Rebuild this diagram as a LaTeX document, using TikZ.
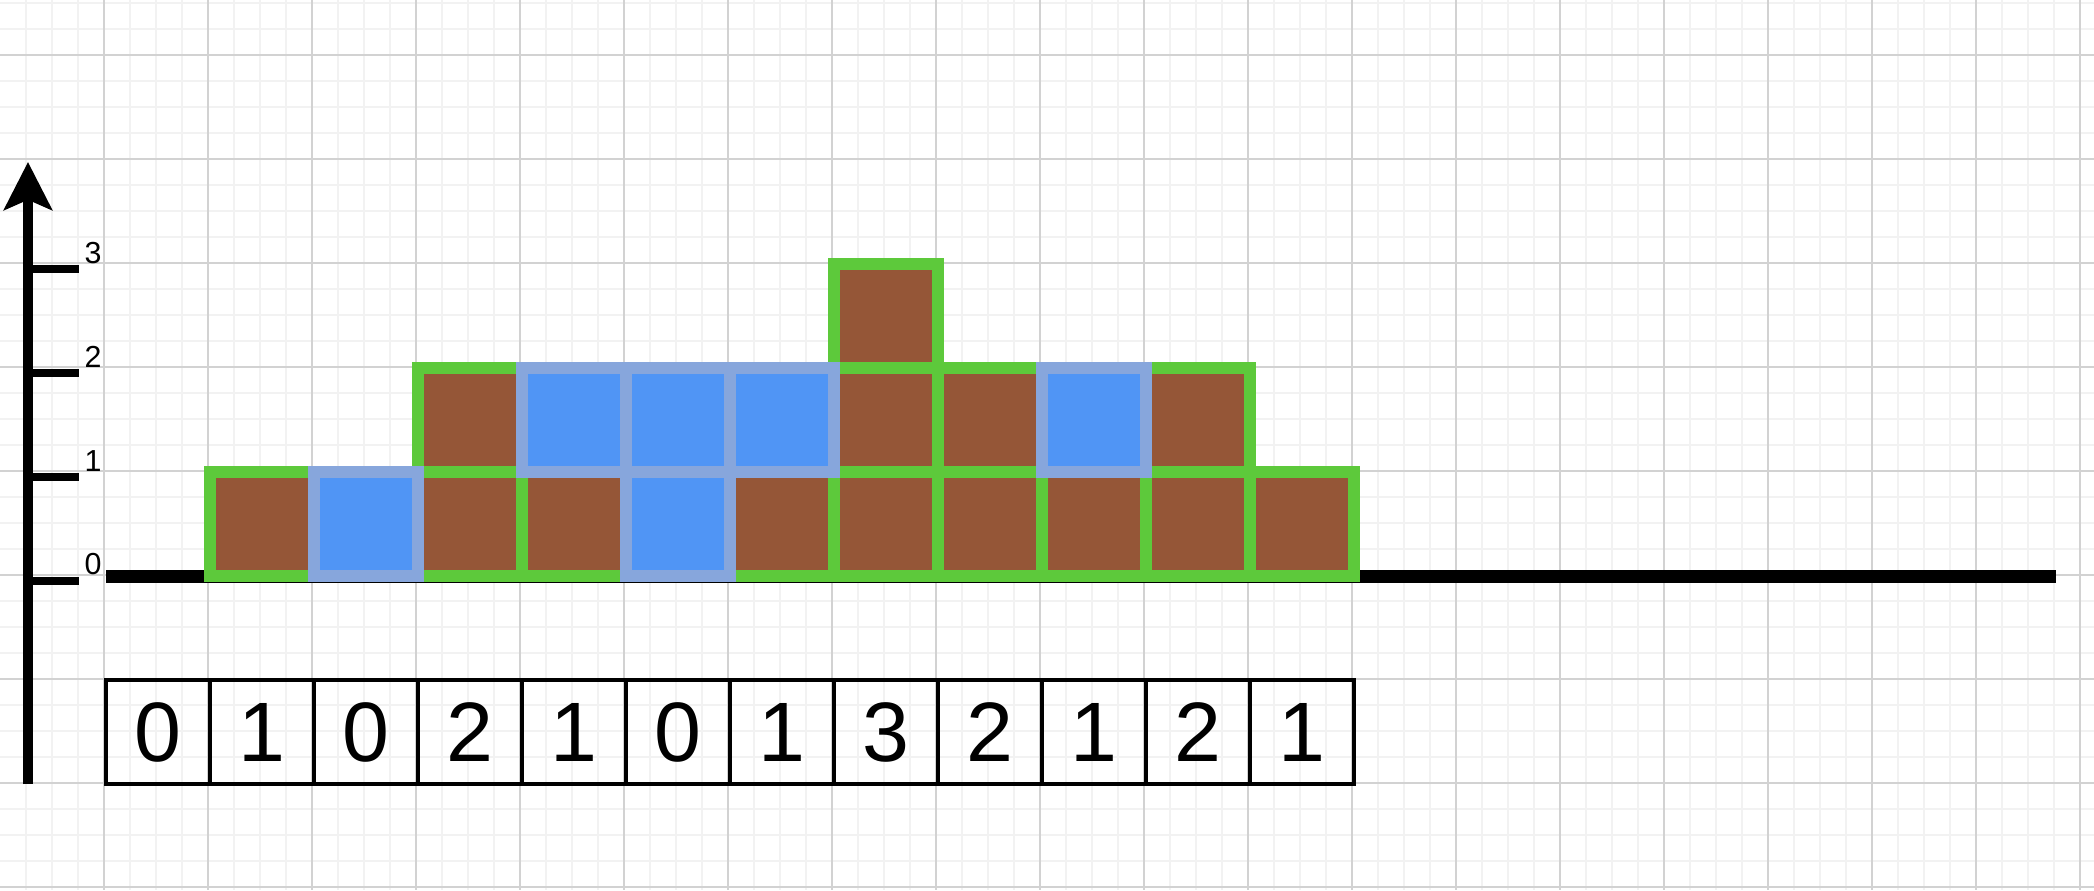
\documentclass[tikz,border=0pt]{standalone}
\usepackage{fontspec}
\setmainfont{Liberation Sans}
\usetikzlibrary{arrows.meta}
\definecolor{gmin}{RGB}{242,242,242}
\definecolor{gmaj}{RGB}{210,210,210}
\definecolor{soilgreen}{RGB}{93,201,59}
\definecolor{soil}{RGB}{149,86,55}
\definecolor{waterfill}{RGB}{80,149,245}
\definecolor{waterline}{RGB}{135,166,220}
\tikzset{
  minorgrid/.style={draw=gmin, line width=1.1pt},
  majorgrid/.style={draw=gmaj, line width=0.8pt},
  soilcell/.style={fill=soil, draw=soilgreen, line width=7.37pt},
  watercell/.style={fill=waterfill, draw=waterline, line width=7.37pt},
  axisline/.style={draw=black, line width=5.67pt},
  baseline/.style={draw=black, line width=7.37pt},
  tickline/.style={draw=black, line width=4.3pt},
  ticklabel/.style={inner sep=0pt, font=\fontsize{17.3}{20}\selectfont},
  tablecell/.style={draw=black, line width=2.27pt, minimum width=2.08cm, minimum height=2.07cm, inner sep=0pt, outer sep=0pt, font=\fontsize{48}{56}\selectfont}
}
\begin{document}
\begin{tikzpicture}[x=0.02cm, y=-0.02cm]
\useasboundingbox (0,0) rectangle (2094,890);
\fill[white] (0,0) rectangle (2094,890);
% grid
\foreach \gx in {26,52,...,2080} \draw[minorgrid] (\gx,0) -- (\gx,890);
\foreach \gy in {3,29,...,887} \draw[minorgrid] (0,\gy) -- (2094,\gy);
\foreach \gx in {104,208,...,2080} \draw[majorgrid] (\gx,0) -- (\gx,890);
\foreach \gy in {55,159,...,887} \draw[majorgrid] (0,\gy) -- (2094,\gy);
% baseline
\coordinate (b0) at (106,576.5);
\coordinate (b1) at (2056,576.5);
\draw[baseline] (b0) -- (b1);
% vertical axis
\coordinate (ya) at (28,784);
\coordinate (yb) at (28,162);
\draw[axisline, -{Stealth[length=27.2pt, width=27.2pt, inset=5.7pt]}] (ya) -- (yb);
% ticks
\foreach \k/\ty/\ly in {0/581/564, 1/477/461, 2/373/357, 3/269/253} {
  \coordinate (tk\k a) at (28,\ty);
  \coordinate (tk\k b) at (79,\ty);
  \draw[tickline] (tk\k a) -- (tk\k b);
  \node[ticklabel] (lab\k) at (93,\ly) {\k};
}
% soil cells: column/row
\foreach \c/\r in {1/0, 3/0, 3/1, 4/0, 6/0, 7/0, 7/1, 7/2, 8/0, 8/1, 9/0, 10/0, 10/1, 11/0} {
  \draw[soilcell] ({106+104*\c},{576-104*\r}) rectangle ({210+104*\c},{472-104*\r});
}
% water cells
\foreach \c/\r in {2/0, 4/1, 5/0, 5/1, 6/1, 9/1} {
  \draw[watercell] ({106+104*\c},{576-104*\r}) rectangle ({210+104*\c},{472-104*\r});
}
% table
\foreach \v [count=\i from 0] in {0,1,0,2,1,0,1,3,2,1,2,1} {
  \node[tablecell] (t\i) at ({158+104*\i},732) {\v};
}
\end{tikzpicture}
\end{document}
